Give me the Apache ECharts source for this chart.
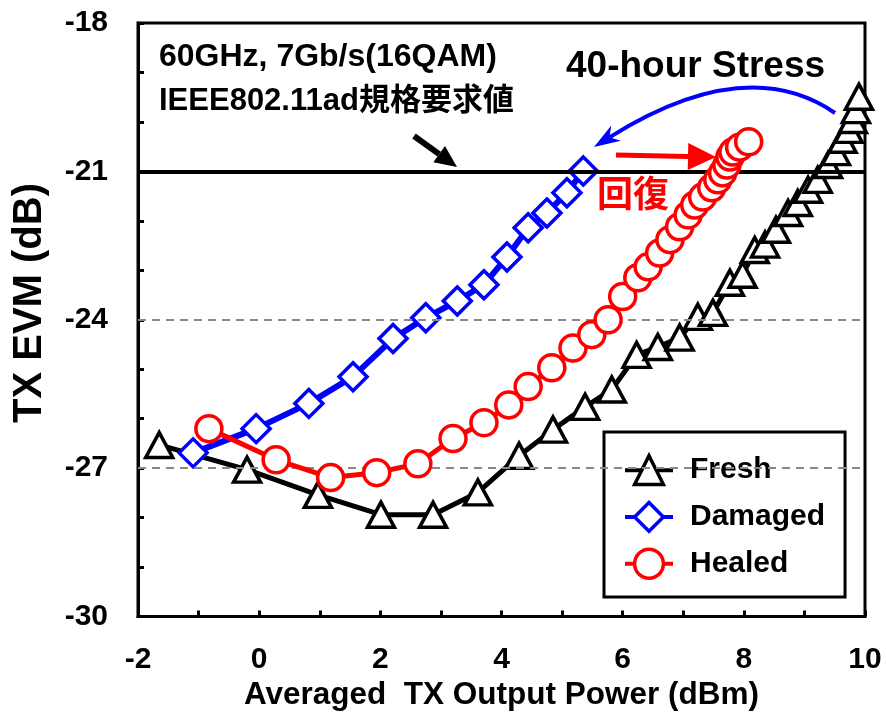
<!DOCTYPE html>
<html>
<head>
<meta charset="utf-8">
<script src="https://cdn.jsdelivr.net/npm/echarts@6/dist/echarts.min.js"></script>
<style>
  html, body { margin: 0; padding: 0; background: #fff; }
  #main { width: 886px; height: 716px; }
</style>
</head>
<body>
<div id="main"></div>
<script>
// 読み取った測定値
const xTicks = [-2, 0, 2, 4, 6, 8, 10];
const yTicks = [-30, -27, -24, -21, -18];
const seriesNames = ['Fresh', 'Damaged', 'Healed'];

const freshX = [-1.65, -0.20, 0.97, 2.01, 2.87, 3.61, 4.29, 4.85, 5.38, 5.82, 6.23, 6.58, 6.94, 7.24, 7.49, 7.77, 7.98, 8.18, 8.35, 8.53, 8.73, 8.89, 9.06, 9.22, 9.39, 9.52, 9.63, 9.73, 9.80, 9.85, 9.90];
const freshY = [-26.53, -27.03, -27.54, -27.94, -27.94, -27.49, -26.75, -26.22, -25.76, -25.41, -24.71, -24.55, -24.36, -23.94, -23.86, -23.25, -23.09, -22.59, -22.48, -22.18, -21.84, -21.64, -21.37, -21.17, -20.87, -20.61, -20.36, -20.16, -19.96, -19.76, -19.49];

const damagedX = [-1.09, -0.05, 0.82, 1.55, 2.21, 2.75, 3.27, 3.71, 4.09, 4.44, 4.75, 5.08, 5.35];
const damagedY = [-26.69, -26.20, -25.69, -25.15, -24.38, -23.96, -23.62, -23.29, -22.73, -22.14, -21.84, -21.43, -20.99];

const healedX = [-0.83, 0.28, 1.18, 1.94, 2.62, 3.20, 3.71, 4.12, 4.44, 4.83, 5.18, 5.49, 5.76, 6.00, 6.25, 6.42, 6.61, 6.78, 6.94, 7.08, 7.19, 7.32, 7.47, 7.57, 7.65, 7.72, 7.77, 7.82, 7.93, 8.08];
const healedY = [-26.20, -26.83, -27.19, -27.09, -26.91, -26.40, -26.08, -25.72, -25.35, -24.97, -24.57, -24.30, -24.00, -23.53, -23.15, -22.93, -22.65, -22.38, -22.12, -21.88, -21.68, -21.52, -21.33, -21.17, -21.03, -20.87, -20.71, -20.61, -20.51, -20.40];

const specLimit = -21; // IEEE802.11ad 規格要求値
const guideLines = [-27, -24]; // 灰色の破線

const FONT = '"Liberation Sans", Arial, "Noto Sans CJK JP", sans-serif';

function zip(xs, ys) {
    return xs.map((x, i) => [x, ys[i]]);
}

// 矢印（直線＋三角の矢じり）
function arrow(x1, y1, x2, y2, color, width, headLen, headW) {
    const ang = Math.atan2(y2 - y1, x2 - x1);
    const bx = x2 - Math.cos(ang) * headLen;
    const by = y2 - Math.sin(ang) * headLen;
    const nx = -Math.sin(ang) * headW / 2;
    const ny = Math.cos(ang) * headW / 2;
    return [
        { type: 'line', shape: { x1: x1, y1: y1, x2: bx, y2: by }, style: { stroke: color, lineWidth: width } },
        { type: 'polygon', shape: { points: [[x2, y2], [bx + nx, by + ny], [bx - nx, by - ny]] }, style: { fill: color } }
    ];
}

// 曲線矢印（2次ベジェ）
function curveArrow(x1, y1, cx, cy, x2, y2, color, width, headLen, headW) {
    const ang = Math.atan2(y2 - cy, x2 - cx);
    const bx = x2 - Math.cos(ang) * headLen * 0.7;
    const by = y2 - Math.sin(ang) * headLen * 0.7;
    const ex = x2 - Math.cos(ang) * headLen;
    const ey = y2 - Math.sin(ang) * headLen;
    const nx = -Math.sin(ang) * headW / 2;
    const ny = Math.cos(ang) * headW / 2;
    return [
        { type: 'bezierCurve', shape: { x1: x1, y1: y1, cpx1: cx, cpy1: cy, x2: bx, y2: by }, style: { stroke: color, lineWidth: width, fill: null } },
        { type: 'polygon', shape: { points: [[x2, y2], [ex + nx, ey + ny], [bx, by], [ex - nx, ey - ny]] }, style: { fill: color } }
    ];
}

const chart = echarts.init(document.getElementById('main'));

const graphics = [
    { type: 'text', left: 159, top: 41, style: { text: '60GHz, 7Gb/s(16QAM)', font: 'bold 32px ' + FONT, fill: '#000' } },
    { type: 'text', left: 159, top: 86, style: { text: 'IEEE802.11ad規格要求値', font: 'bold 31px ' + FONT, fill: '#000' } },
    { type: 'text', left: 566, top: 48, style: { text: '40-hour Stress', font: 'bold 37px ' + FONT, fill: '#000' } },
    { type: 'text', left: 597, top: 179, style: { text: '回復', font: 'bold 36px ' + FONT, fill: '#ff0000' } },
    {
        type: 'text', x: 30, y: 303, rotation: Math.PI / 2,
        style: { text: 'TX EVM (dB)', font: 'bold 40px ' + FONT, fill: '#000', align: 'center', verticalAlign: 'middle' }
    }
].concat(
    arrow(414, 136, 457, 167, '#000', 6, 22, 20),
    arrow(616, 155, 716, 157, '#ff0000', 5, 28, 27),
    curveArrow(835, 113, 746, 52, 594, 147, '#0000ff', 4, 26, 18)
);

const option = {
    animation: false,
    backgroundColor: '#fff',
    grid: {
        left: 138,
        top: 23,
        right: 21,
        bottom: 99,
        show: true,
        borderColor: '#000',
        borderWidth: 3
    },
    xAxis: {
        type: 'value',
        min: xTicks[0],
        max: xTicks[xTicks.length - 1],
        interval: 2,
        name: 'Averaged  TX Output Power (dBm)',
        nameLocation: 'middle',
        nameGap: 60,
        nameTextStyle: { color: '#000', fontSize: 31.5, fontWeight: 'bold', fontFamily: FONT },
        axisLine: { onZero: false, lineStyle: { color: '#000', width: 3 } },
        axisTick: { inside: true, length: 6, lineStyle: { color: '#000', width: 3 } },
        minorTick: { show: true, splitNumber: 2, length: 6, lineStyle: { color: '#000', width: 3 } },
        axisLabel: { color: '#000', fontSize: 30, fontWeight: 'bold', fontFamily: FONT, margin: 28 },
        splitLine: { show: false }
    },
    yAxis: {
        type: 'value',
        min: yTicks[0],
        max: yTicks[yTicks.length - 1],
        interval: 3,
        axisLine: { onZero: false, lineStyle: { color: '#000', width: 3 } },
        axisTick: { inside: true, length: 6, lineStyle: { color: '#000', width: 3 } },
        minorTick: { show: true, splitNumber: 3, length: 6, lineStyle: { color: '#000', width: 3 } },
        axisLabel: { color: '#000', fontSize: 30, fontWeight: 'bold', fontFamily: FONT, margin: 30 },
        splitLine: { show: false }
    },
    legend: {
        data: seriesNames,
        orient: 'vertical',
        left: 604,
        top: 432,
        padding: [22, 20, 17, 19],
        itemWidth: 48,
        itemHeight: 36,
        itemGap: 14.5,
        borderColor: '#000',
        borderWidth: 3,
        backgroundColor: '#fff',
        lineStyle: { width: 4 },
        itemStyle: { borderWidth: 3.5 },
        textStyle: { color: '#000', fontSize: 30, fontWeight: 'bold', fontFamily: FONT, padding: [0, 0, 0, 12] }
    },
    series: [
        {
            name: seriesNames[0],
            type: 'line',
            data: zip(freshX, freshY),
            symbol: 'triangle',
            symbolSize: [27, 25],
            lineStyle: { color: '#000', width: 5 },
            itemStyle: { color: '#fff', borderColor: '#000', borderWidth: 3.5 },
            markLine: {
                silent: true,
                symbol: 'none',
                label: { show: false },
                data: guideLines.map(v => ({ yAxis: v, lineStyle: { color: '#888', width: 2, type: [8, 6] } }))
                    .concat([{ yAxis: specLimit, lineStyle: { color: '#000', width: 4, type: 'solid' } }])
            },
            z: 3
        },
        {
            name: seriesNames[1],
            type: 'line',
            data: zip(damagedX, damagedY),
            symbol: 'diamond',
            symbolSize: 28,
            lineStyle: { color: '#0000ff', width: 6 },
            itemStyle: { color: '#fff', borderColor: '#0000ff', borderWidth: 3.5 },
            z: 4
        },
        {
            name: seriesNames[2],
            type: 'line',
            data: zip(healedX, healedY),
            symbol: 'circle',
            symbolSize: 26,
            lineStyle: { color: '#ff0000', width: 5 },
            itemStyle: { color: '#fff', borderColor: '#ff0000', borderWidth: 3.5 },
            z: 5
        }
    ],
    graphic: graphics
};

chart.setOption(option);
</script>
</body>
</html>
